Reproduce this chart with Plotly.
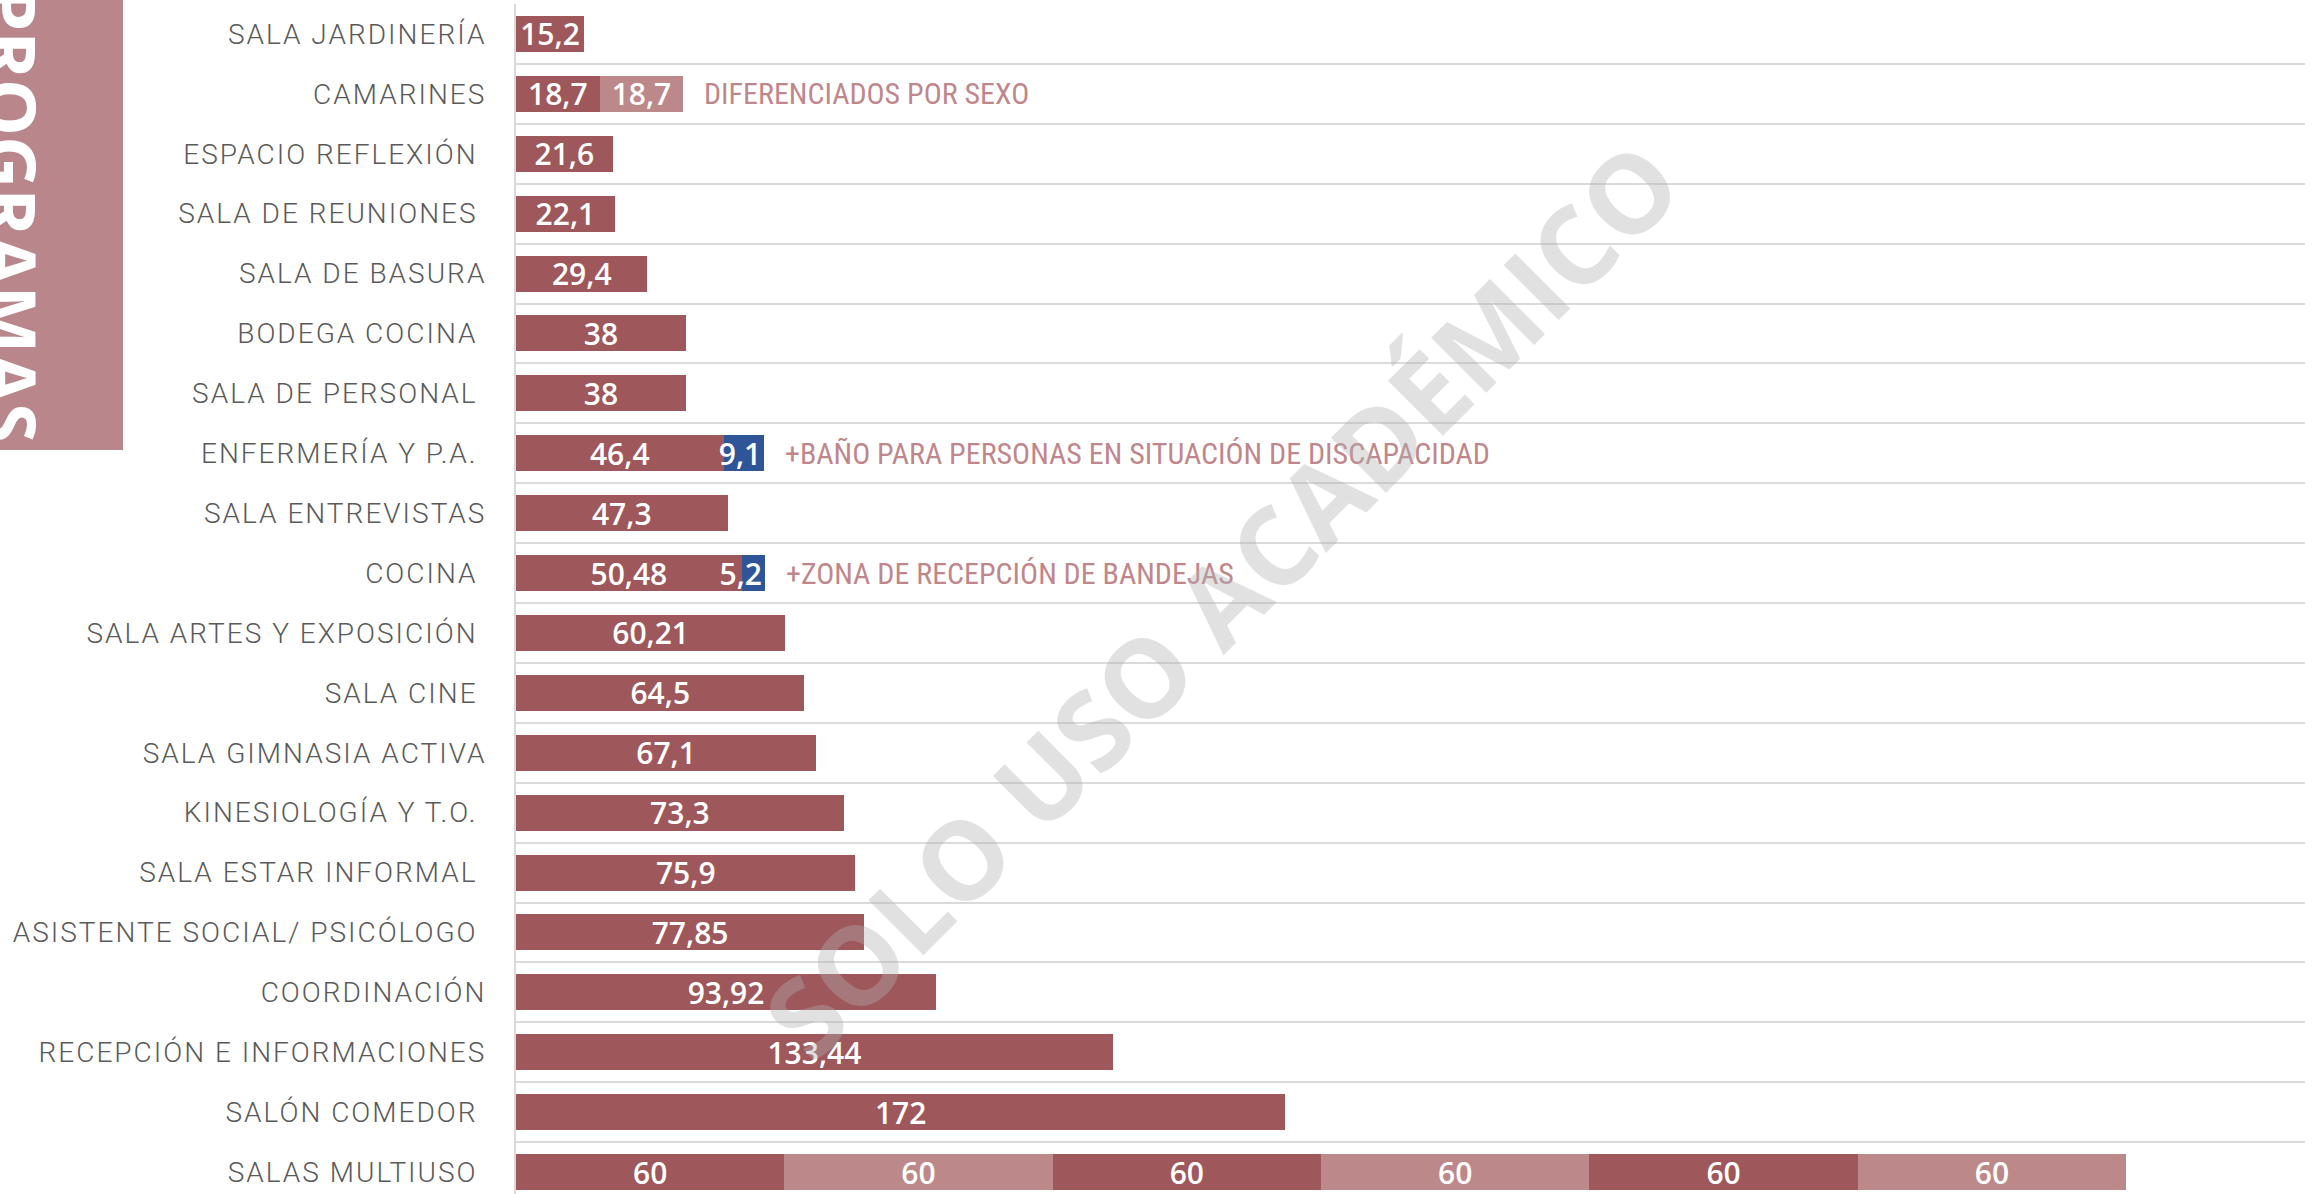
import plotly.graph_objects as go

# ---- data -------------------------------------------------------------
categories = [
    "SALA JARDINERÍA", "CAMARINES", "ESPACIO REFLEXIÓN", "SALA DE REUNIONES",
    "SALA DE BASURA", "BODEGA COCINA", "SALA DE PERSONAL", "ENFERMERÍA Y P.A.",
    "SALA ENTREVISTAS", "COCINA", "SALA ARTES Y EXPOSICIÓN", "SALA CINE",
    "SALA GIMNASIA ACTIVA", "KINESIOLOGÍA Y T.O.", "SALA ESTAR INFORMAL",
    "ASISTENTE SOCIAL/ PSICÓLOGO", "COORDINACIÓN", "RECEPCIÓN E INFORMACIONES",
    "SALÓN COMEDOR", "SALAS MULTIUSO",
]
# labels that keep a trailing space in the source table
trailing_space = {
    "ESPACIO REFLEXIÓN", "SALA DE REUNIONES", "BODEGA COCINA", "SALA DE PERSONAL",
    "ENFERMERÍA Y P.A.", "COCINA", "SALA ARTES Y EXPOSICIÓN", "SALA CINE",
    "KINESIOLOGÍA Y T.O.", "SALA ESTAR INFORMAL", "ASISTENTE SOCIAL/ PSICÓLOGO",
    "SALÓN COMEDOR", "SALAS MULTIUSO",
}
# main area (m2) of each room; for multiuso this is the first module
main_area = [15.2, 18.7, 21.6, 22.1, 29.4, 38, 38, 46.4, 47.3, 50.48,
             60.21, 64.5, 67.1, 73.3, 75.9, 77.85, 93.92, 133.44, 172, 60]
camarines_second = 18.7
multiuso_modules = [60, 60, 60, 60, 60, 60]
extra_rooms = ["ENFERMERÍA Y P.A.", "COCINA"]
extra_area = [9.1, 5.2]
notes = {
    "CAMARINES": "DIFERENCIADOS POR SEXO",
    "ENFERMERÍA Y P.A.": "+BAÑO PARA PERSONAS EN SITUACIÓN DE DISCAPACIDAD",
    "COCINA": "+ZONA DE RECEPCIÓN DE BANDEJAS",
}

# ---- style ------------------------------------------------------------
DARK = "#9E575B"
LIGHT = "#BC8889"
BLUE = "#2E5597"
NOTE = "#BF878B"
GRID = "#DADADA"
LABEL = "#5A5A5A"
VALUE_FONT = dict(family="Open Sans, Roboto, sans-serif", size=30, color="white", weight=600)
NOTE_FONT = dict(family="Roboto Condensed, Liberation Sans Narrow, DejaVu Sans Condensed, Roboto",
                 size=30, color=NOTE)

W, H = 2318, 1194
M_L, M_R, M_T, M_B = 516, 13, 4, 0
PLOT_W = W - M_L - M_R
PLOT_H = H - M_T - M_B
ROW_PX = 59.9


def fmt(v):
    return f"{v:g}".replace(".", ",")


def px_to_paper_x(px):
    return (px - M_L) / PLOT_W


def px_to_paper_y(py):
    return 1 - (py - M_T) / PLOT_H


idx = {c: i for i, c in enumerate(categories)}
ypos = list(range(len(categories)))

bar_common = dict(
    orientation="h", width=0.6, textposition="inside", insidetextanchor="middle",
    constraintext="none", textangle=0, textfont=VALUE_FONT, hoverinfo="skip",
    marker_line_width=0, showlegend=False, cliponaxis=False,
)

fig = go.Figure()

fig.add_trace(go.Bar(x=main_area, y=ypos, text=[fmt(v) for v in main_area],
                     marker_color=DARK, **bar_common))

second_y = [idx["CAMARINES"], idx["SALAS MULTIUSO"]]
second_x = [camarines_second, multiuso_modules[1]]
fig.add_trace(go.Bar(x=second_x, y=second_y, text=[fmt(v) for v in second_x],
                     marker_color=LIGHT, **bar_common))

blue_common = dict(bar_common, insidetextanchor="end")
fig.add_trace(go.Bar(x=extra_area, y=[idx[c] for c in extra_rooms],
                     text=[fmt(v) for v in extra_area], marker_color=BLUE, **blue_common))

for k, v in enumerate(multiuso_modules[2:], start=2):
    fig.add_trace(go.Bar(x=[v], y=[idx["SALAS MULTIUSO"]], text=[fmt(v)],
                         marker_color=DARK if k % 2 == 0 else LIGHT, **bar_common))

# totals per row, used to place the side notes
totals = list(main_area)
totals[idx["CAMARINES"]] += camarines_second
for c, v in zip(extra_rooms, extra_area):
    totals[idx[c]] += v
totals[idx["SALAS MULTIUSO"]] = sum(multiuso_modules)

annotations = []
for cat, txt in notes.items():
    annotations.append(dict(
        x=totals[idx[cat]], y=idx[cat], xref="x", yref="y", text=txt,
        showarrow=False, xanchor="left", yanchor="middle", xshift=19, font=NOTE_FONT,
    ))

# vertical section title on the textured band
annotations.append(dict(
    x=px_to_paper_x(12), y=px_to_paper_y(214), xref="paper", yref="paper",
    text="<b>PROGRAMAS</b>", textangle=90, showarrow=False,
    xanchor="center", yanchor="middle",
    font=dict(family="Open Sans, Roboto, sans-serif", size=72, color="white"),
))

# academic-use watermark
annotations.append(dict(
    x=px_to_paper_x(1220), y=px_to_paper_y(598), xref="paper", yref="paper",
    text="<b>SOLO USO ACADÉMICO</b>", textangle=-45, showarrow=False,
    xanchor="center", yanchor="middle",
    font=dict(family="Open Sans, Roboto, sans-serif", size=109, color="rgba(175,175,175,0.38)"),
))

ticktext = []
for c in categories:
    label = c + ("\u00a0" if c in trailing_space else "")
    ticktext.append(f'<span style="letter-spacing:2px">{label}</span>')

shapes = [dict(
    type="rect", xref="paper", yref="paper",
    x0=px_to_paper_x(0), x1=px_to_paper_x(123),
    y0=px_to_paper_y(450), y1=px_to_paper_y(-5),
    fillcolor="#B8868B", line_width=0, layer="below",
)]

n = len(categories)
bottom = -0.5 + PLOT_H / ROW_PX

fig.update_layout(
    width=W, height=H,
    margin=dict(l=M_L, r=M_R, t=M_T, b=M_B, pad=0),
    paper_bgcolor="white", plot_bgcolor="white",
    barmode="stack", bargap=0.4,
    annotations=annotations, shapes=shapes,
    xaxis=dict(range=[0, 400], showgrid=False, zeroline=False, showticklabels=False,
               showline=False, fixedrange=True),
    yaxis=dict(
        range=[bottom, -0.5], tickmode="array", tickvals=ypos, ticktext=ticktext,
        ticks="", showgrid=False, zeroline=False,
        showline=True, linecolor=GRID, linewidth=2,
        ticklabelstandoff=22,
        tickfont=dict(family="Roboto", size=28, color=LABEL, weight=300),
        minor=dict(tickmode="array", tickvals=[i - 0.5 for i in range(n + 1)],
                   showgrid=True, gridcolor=GRID, gridwidth=2, ticks=""),
        fixedrange=True,
    ),
)

fig.write_html("out.html")
